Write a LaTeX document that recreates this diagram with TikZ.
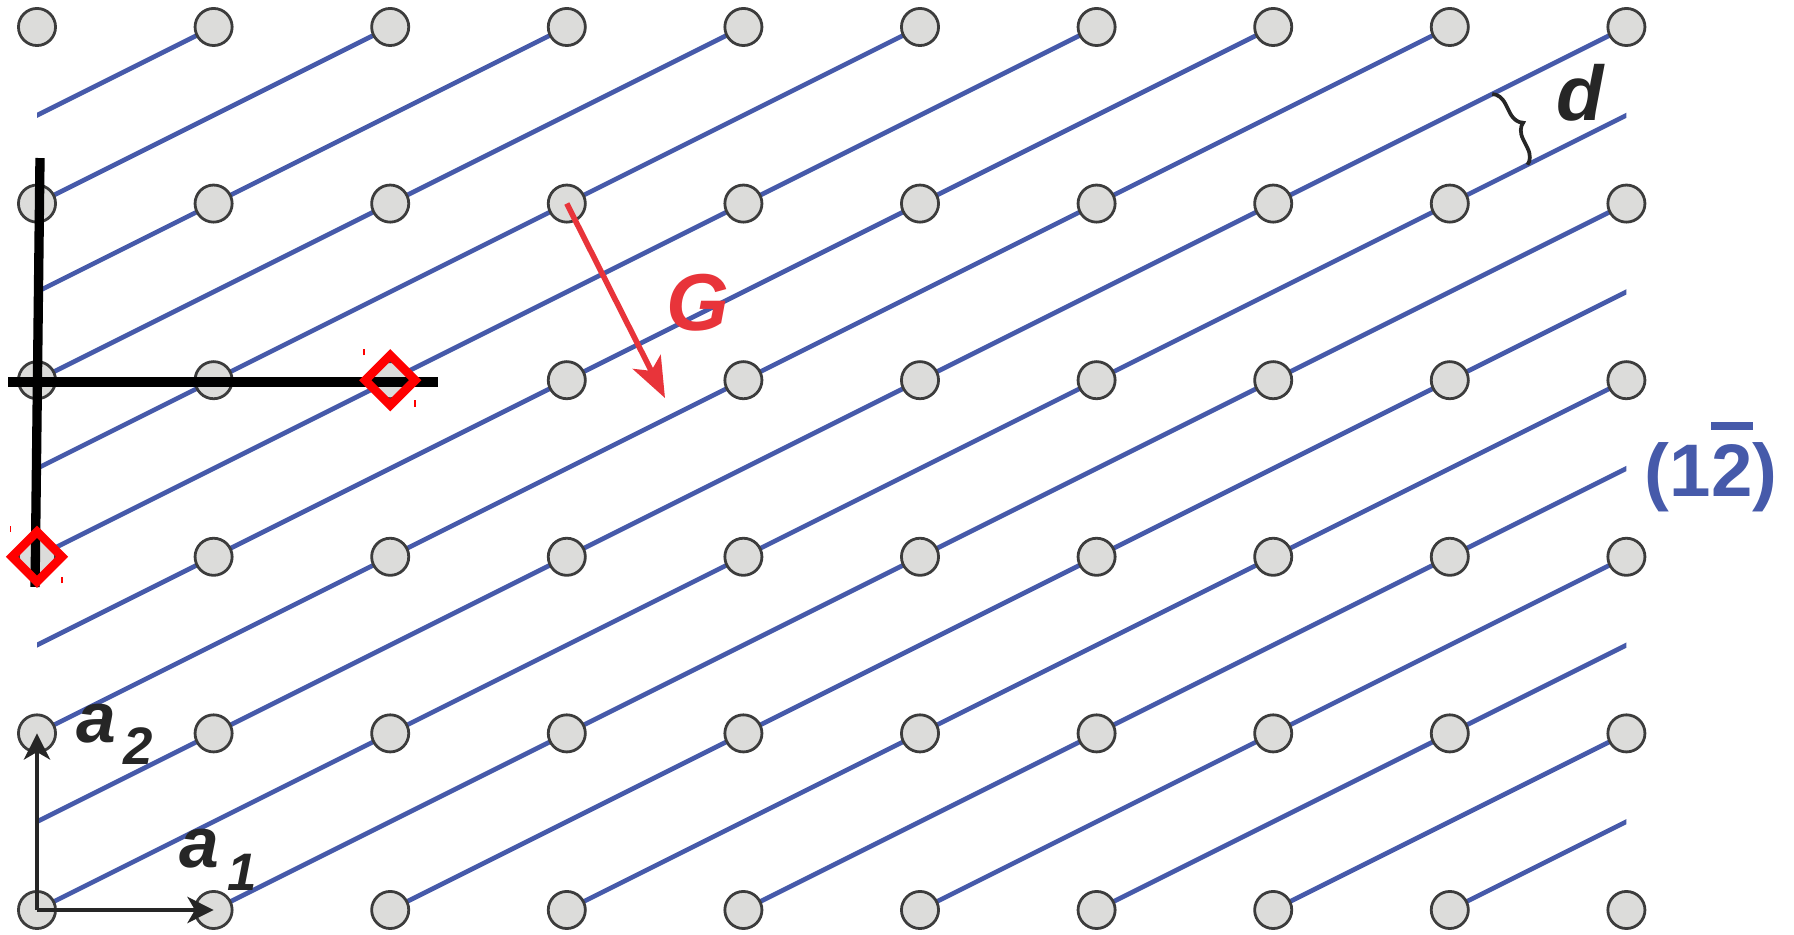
\documentclass[tikz,border=0pt]{standalone}
\usepackage{fontspec}
\setmainfont{Liberation Sans}
\usetikzlibrary{arrows.meta,decorations.pathreplacing}
\definecolor{planeblue}{RGB}{70,90,170}
\definecolor{vecred}{RGB}{232,52,58}
\definecolor{sitefill}{RGB}{220,220,218}
\definecolor{siteedge}{RGB}{60,60,60}
\newcommand{\barred}[1]{\makebox[0pt][l]{\rule[0.9em]{0.556em}{0.11em}}#1}

\begin{document}
\begin{tikzpicture}[
    site/.style={circle, draw=siteedge, fill=sitefill, line width=0.45pt, minimum size=0.21cm, inner sep=0pt},
    plane/.style={draw=planeblue, line width=0.75pt},
    axisline/.style={draw=black, line width=1.5pt},
    marker/.style={draw=red, line width=1.4pt, minimum size=0.2cm, inner sep=0pt, rotate=45},
    tickmark/.style={draw=red, line width=0.3pt},
    basis/.style={-{Stealth[length=4.2pt, width=4.2pt, inset=1.2pt]}, line width=0.8pt, draw=black!85},
    recip/.style={-{Stealth[length=6.5pt, width=5pt, inset=1.6pt]}, line width=0.9pt, draw=vecred},
    vlabel/.style={font=\fontsize{11.5}{13}\selectfont\bfseries\itshape, inner sep=0pt, text=black!85},
    sub/.style={font=\fontsize{8.5}{10}\selectfont\bfseries\itshape, inner sep=0pt, text=black!85},
    brace/.style={decorate, decoration={brace, amplitude=2.4pt}, line width=0.6pt, draw=black!85}
]
\useasboundingbox (-0.2095,-0.136) rectangle (9.949,5.153);
% lattice planes (1 -2)
\begin{scope}
\clip (0,0) rectangle (9,5);
\foreach \n in {-10,...,9}
  \draw[plane] (\n-2,-1) -- (\n+12,6);
\end{scope}
% lattice sites
\foreach \i in {0,...,9}
  \foreach \j in {0,...,5}
    \node[site] (p-\i-\j) at (\i,\j) {};
% intercept axes
\coordinate (vtop) at (0.017,4.258);
\coordinate (vbot) at (-0.011,1.829);
\coordinate (hleft) at (-0.164,2.99);
\coordinate (hright) at (2.27,2.99);
\draw[axisline] (vtop) -- (vbot);
\draw[axisline] (hleft) -- (hright);
\node[marker] (cut1) at (p-2-3) {};
\node[marker] (cut2) at (p-0-2) {};
\draw[tickmark] ([shift={(-0.15,0.14)}]cut1.center) -- ++(0,0.035);
\draw[tickmark] ([shift={(0.14,-0.15)}]cut1.center) -- ++(0,0.035);
\draw[tickmark] ([shift={(-0.15,0.14)}]cut2.center) -- ++(0,0.035);
\draw[tickmark] ([shift={(0.14,-0.15)}]cut2.center) -- ++(0,0.035);
% reciprocal vector
\coordinate (gtip) at (3.556,2.899);
\draw[recip] (p-3-4.center) -- (gtip);
\node[font=\fontsize{13}{15}\selectfont\bfseries\itshape, text=vecred, inner sep=0pt] (glabel) at (3.74,3.44) {G};
% spacing
\coordinate (dtop) at (8.24,4.62);
\coordinate (dbot) at (8.44,4.22);
\draw[brace] (dtop) -- (dbot);
\node[font=\fontsize{12.5}{14}\selectfont\bfseries\itshape, text=black!85, inner sep=0pt] (dlabel) at (8.737,4.626) {d};
\node[font=\fontsize{12}{14}\selectfont\bfseries, text=planeblue, inner sep=0pt] (hkl) at (9.48,2.508) {(1\barred{2})};
% basis vectors
\draw[basis] (p-0-0.center) -- (p-1-0.center);
\draw[basis] (p-0-0.center) -- (p-0-1.center);
\node[vlabel, anchor=base west] (a1) at (0.8,0.238) {a};
\node[sub, anchor=base west] (a1sub) at ([shift={(0.03,-0.13)}]a1.base east) {1};
\node[vlabel, anchor=base west] (a2) at (0.215,0.951) {a};
\node[sub, anchor=base west] (a2sub) at ([shift={(0.03,-0.13)}]a2.base east) {2};
\end{tikzpicture}
\end{document}
